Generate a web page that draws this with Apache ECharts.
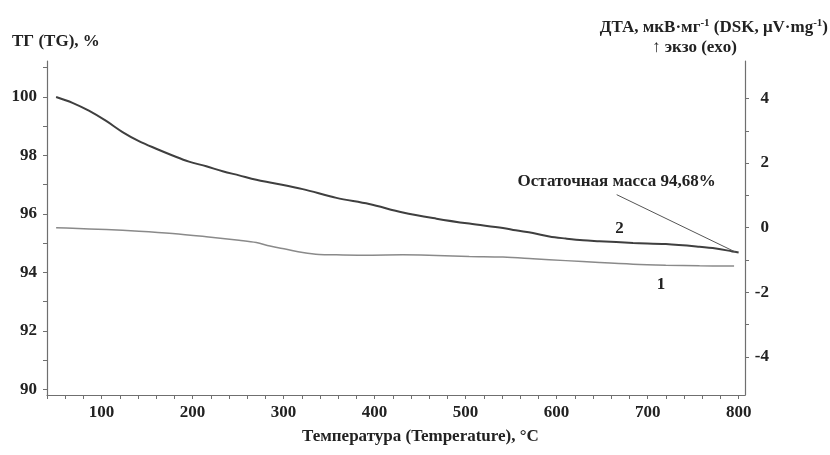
<!DOCTYPE html>
<html>
<head>
<meta charset="utf-8">
<script src="https://cdn.jsdelivr.net/npm/echarts@6/dist/echarts.min.js"></script>
<style>html,body{margin:0;padding:0;background:#fff;}#c{width:830px;height:455px;}</style>
</head>
<body>
<div id="c"></div>
<script>
// Curve 2: TG, % (left axis)
const tgTemps = [50, 68, 86, 105, 123, 141, 160, 178, 196, 215, 233, 251, 270, 288, 321, 358, 394, 431, 468, 504, 541, 555, 574, 592, 610, 629, 647, 684, 720, 757, 775, 793, 800];
const tgValues = [100, 99.80, 99.53, 99.18, 98.80, 98.49, 98.23, 98.0, 97.79, 97.63, 97.46, 97.32, 97.17, 97.06, 96.85, 96.55, 96.34, 96.05, 95.84, 95.67, 95.52, 95.44, 95.35, 95.23, 95.16, 95.10, 95.07, 95.01, 94.97, 94.88, 94.82, 94.72, 94.68];
// Curve 1: DTA (right axis)
const dtaTemps = [50, 68, 105, 141, 178, 215, 251, 270, 285, 303, 321, 339, 358, 394, 431, 468, 504, 541, 574, 610, 647, 684, 720, 757, 795];
const dtaValues = [0.0, -0.02, -0.06, -0.11, -0.18, -0.28, -0.39, -0.46, -0.57, -0.67, -0.77, -0.83, -0.84, -0.85, -0.84, -0.86, -0.89, -0.91, -0.96, -1.02, -1.08, -1.13, -1.16, -1.18, -1.19];
// Axis ticks / labels
const xTicks = [40,60,80,100,120,140,160,180,200,220,240,260,280,300,320,340,360,380,400,420,440,460,480,500,520,540,560,580,600,620,640,660,680,700,720,740,760,780,800];
const xLabels = [100,200,300,400,500,600,700,800];
const yLeftTicks = [90,91,92,93,94,95,96,97,98,99,100,101];
const yLeftLabels = [90,92,94,96,98,100];
const yRightTicks = [-4,-3,-2,-1,0,1,2,3,4];
const yRightLabels = [-4,-2,0,2,4];
// Annotations
const residualText = 'Остаточная масса 94,68%';
const residualLabelPos = [666, 97.12];
const residualLine = [[666, 96.66], [797, 94.69]];
const label2Pos = [669, 95.49];
const label1Pos = [714.6, -1.755];

const FONT = "'Liberation Serif','Times New Roman',serif";
const AX = '#6f6f6f';
const TXT = '#222';

const chart = echarts.init(document.getElementById('c'), null, {renderer: 'canvas'});
const axisLabelStyle = {color: TXT, fontFamily: FONT, fontWeight: 'bold', fontSize: 17};

chart.setOption({
  animation: false,
  backgroundColor: '#fff',
  grid: {left: 47, right: 85, top: 61, bottom: 60, containLabel: false},
  xAxis: {
    type: 'value', min: 40, max: 807,
    axisLine: {show: true, onZero: false, lineStyle: {color: AX, width: 1.2}},
    axisTick: {show: true, length: 4, customValues: xTicks, lineStyle: {color: AX}},
    axisLabel: Object.assign({margin: 9, customValues: xLabels}, axisLabelStyle),
    splitLine: {show: false}
  },
  yAxis: [{
    type: 'value', position: 'left', min: 89.81, max: 101.23,
    axisLine: {show: true, onZero: false, lineStyle: {color: AX, width: 1.2}},
    axisTick: {show: true, length: 4, customValues: yLeftTicks, lineStyle: {color: AX}},
    axisLabel: Object.assign({margin: 10, customValues: yLeftLabels}, axisLabelStyle),
    splitLine: {show: false}
  }, {
    type: 'value', position: 'right', min: -5.18, max: 5.16,
    axisLine: {show: true, onZero: false, lineStyle: {color: AX, width: 1.2}},
    axisTick: {show: true, length: 4, customValues: yRightTicks, lineStyle: {color: AX}},
    axisLabel: Object.assign({margin: 24, align: 'right', customValues: yRightLabels}, axisLabelStyle),
    splitLine: {show: false}
  }],
  series: [{
    name: 'TG', type: 'line', yAxisIndex: 0, smooth: 0.35, symbol: 'none',
    data: tgTemps.map((t, i) => [t, tgValues[i]]),
    lineStyle: {color: '#3f3f3f', width: 2},
    markLine: {
      silent: true, symbol: 'none', label: {show: false},
      lineStyle: {color: '#555', width: 1, type: 'solid'},
      data: [[{coord: residualLine[0]}, {coord: residualLine[1]}]]
    },
    markPoint: {
      silent: true, symbol: 'circle', symbolSize: 1, itemStyle: {color: 'rgba(0,0,0,0)'},
      label: {show: true, position: 'inside', color: TXT, fontFamily: FONT, fontWeight: 'bold', fontSize: 17},
      data: [
        {coord: residualLabelPos, label: {formatter: residualText}},
        {coord: label2Pos, label: {formatter: '2'}}
      ]
    }
  }, {
    name: 'DTA', type: 'line', yAxisIndex: 1, smooth: 0.35, symbol: 'none',
    data: dtaTemps.map((t, i) => [t, dtaValues[i]]),
    lineStyle: {color: '#8a8a8a', width: 1.5},
    markPoint: {
      silent: true, symbol: 'circle', symbolSize: 1, itemStyle: {color: 'rgba(0,0,0,0)'},
      label: {show: true, position: 'inside', color: TXT, fontFamily: FONT, fontWeight: 'bold', fontSize: 17},
      data: [{coord: label1Pos, label: {formatter: '1'}}]
    }
  }],
  graphic: [{
    type: 'text', left: 12, top: 33,
    style: {text: 'ТГ (TG), %', fill: TXT, font: "bold 17px 'Liberation Serif', serif"}
  }, {
    type: 'text', right: 2, top: 18,
    style: {
      text: '{m|ДТА, мкВ·мг}{s|-1}{m| (DSK, μV·mg}{s|-1}{m|)}',
      rich: {
        m: {fill: TXT, fontFamily: FONT, fontWeight: 'bold', fontSize: 17, lineHeight: 20},
        s: {fill: TXT, fontFamily: FONT, fontWeight: 'bold', fontSize: 11, lineHeight: 20, verticalAlign: 'top'}
      }
    }
  }, {
    type: 'text', left: 652, top: 39,
    style: {text: '↑ экзо (exo)', fill: TXT, font: "bold 17px 'Liberation Serif', serif"}
  }, {
    type: 'text', left: 302, top: 428,
    style: {text: 'Температура (Temperature), °C', fill: TXT, font: "bold 17px 'Liberation Serif', serif"}
  }]
});
</script>
</body>
</html>
